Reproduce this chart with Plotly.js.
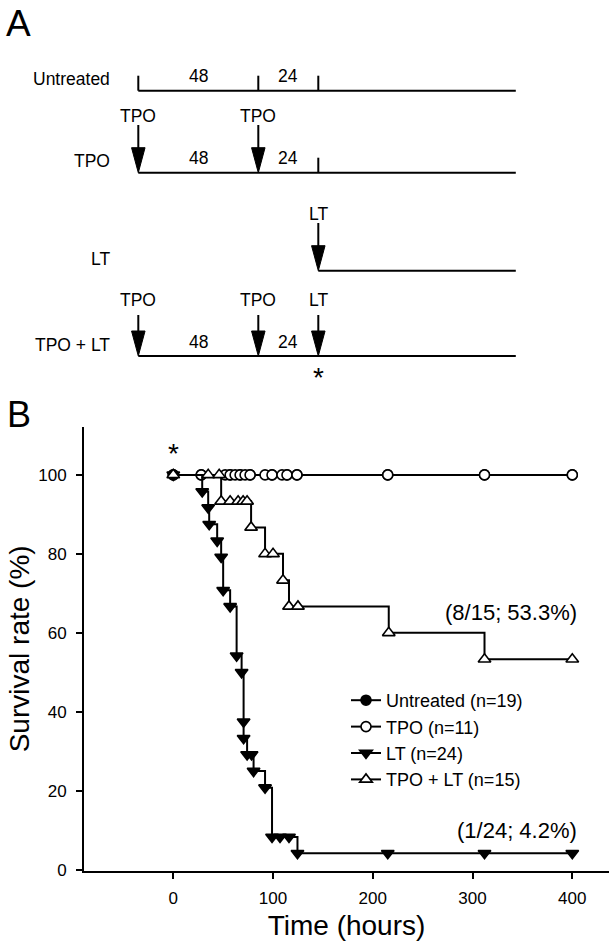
<!DOCTYPE html>
<html><head><meta charset="utf-8">
<script src="https://cdn.plot.ly/plotly-3.0.1.min.js"></script>
<style>html,body{margin:0;padding:0;background:#fff}#chart{width:616px;height:948px}</style>
</head><body><div id="chart"></div>
<script>
// ---------- Panel B data (Kaplan-Meier survival) ----------
const seriesNames = ['Untreated (n=19)', 'TPO (n=11)', 'LT (n=24)', 'TPO + LT (n=15)'];
const untreatedTime = [0, 28, 57, 67, 77, 99, 114, 124, 215, 312, 400];
const untreatedSurv = [100, 100, 100, 100, 100, 100, 100, 100, 100, 100, 100];
const tpoTime = [0, 28, 52, 57, 62, 67, 72, 77, 92, 99, 109, 114, 124, 215, 312, 400];
const tpoSurv = [100, 100, 100, 100, 100, 100, 100, 100, 100, 100, 100, 100, 100, 100, 100, 100];
const ltTime = [0, 29, 35, 36, 44, 48, 50, 57, 63.5, 68.5, 70.5, 70.5, 74, 78.5, 80.5, 92, 99, 107, 116, 124.5, 215, 312, 400];
const ltSurv = [100, 95.8, 91.7, 87.5, 83.3, 79.2, 70.8, 66.7, 54.2, 50.0, 37.5, 33.3, 29.2, 29.2, 25.0, 20.8, 8.3, 8.3, 8.3, 4.2, 4.2, 4.2, 4.2];
const tpoLtTime = [0, 35, 46, 48, 57, 65, 70, 74, 78, 92, 100, 110, 116, 125, 216, 312, 400];
const tpoLtSurv = [100, 100, 100, 93.3, 93.3, 93.3, 93.3, 93.3, 86.7, 80.0, 80.0, 73.3, 66.7, 66.7, 60.0, 53.3, 53.3];
const xTicks = [0, 100, 200, 300, 400];
const yTicks = [0, 20, 40, 60, 80, 100];
const endNotes = ['(8/15; 53.3%)', '(1/24; 4.2%)'];

// ---------- Panel A data (treatment schedule, hours) ----------
const schemeRows = ['Untreated', 'TPO', 'LT', 'TPO + LT'];
const schemeStart = [0, 0, 72, 0];
const schemeEnd = 151;
const schemeTicks = [[0, 48, 72], [72], [], []];
const schemeDoses = [[], [0, 48], [72], [0, 48, 72]];
const schemeDoseNames = [[], ['TPO', 'TPO'], ['LT'], ['TPO', 'TPO', 'LT']];
const intervalNames = ['48', '24'];
const intervalMid = [24, 60];
const intervalRows = [0, 1, 3];

// ---------- layout constants (pixels for panel A rows) ----------
const rowY = [90.7, 172.7, 270.7, 356];
const arrowTop = [0, 125, 223, 315];
const doseLabelY = [0, 116, 214, 300];
const sans = 'Liberation Sans, Arial, Helvetica, sans-serif';
const black = '#000';
const schemeFont = {family: sans, size: 17.5, color: black};

const shapes = [];
const annotations = [];
schemeRows.forEach((name, i) => {
  const y = rowY[i];
  shapes.push({type: 'line', xref: 'x2', yref: 'y2', x0: schemeStart[i], x1: schemeEnd, y0: y, y1: y,
    line: {color: black, width: 2}});
  schemeTicks[i].forEach(t => shapes.push({type: 'line', xref: 'x2', yref: 'y2', x0: t, x1: t, y0: y - 15, y1: y,
    line: {color: black, width: 2}}));
  schemeDoses[i].forEach((t, k) => {
    shapes.push({type: 'line', xref: 'x2', yref: 'y2', x0: t, x1: t, y0: arrowTop[i], y1: y - 12,
      line: {color: black, width: 2}});
    shapes.push({type: 'path', xref: 'x2', yref: 'y2',
      path: `M${t - 2.7},${y - 25} L${t + 2.7},${y - 25} L${t},${y} Z`,
      fillcolor: black, line: {color: black, width: 1}});
    annotations.push({xref: 'x2', yref: 'y2', x: t, y: doseLabelY[i], text: schemeDoseNames[i][k],
      showarrow: false, xanchor: 'center', yanchor: 'middle', font: schemeFont});
  });
  annotations.push({xref: 'x2', yref: 'y2', x: -10.6, y: y - 11.5, text: name, showarrow: false,
    xanchor: 'right', yanchor: 'middle', font: schemeFont});
});
intervalRows.forEach(r => {
  intervalNames.forEach((lab, k) => annotations.push({xref: 'x2', yref: 'y2', x: intervalMid[k], y: rowY[r] - 14.5,
    text: lab, showarrow: false, xanchor: 'center', yanchor: 'middle', font: schemeFont}));
});
annotations.push({xref: 'x2', yref: 'y2', x: 72, y: 377, text: '*', showarrow: false,
  xanchor: 'center', yanchor: 'middle', font: {family: sans, size: 28, color: black}});
annotations.push({xref: 'paper', yref: 'paper', x: (4 - 84) / 525, y: 1 - 23.5 / 871, text: 'A', showarrow: false,
  xanchor: 'left', yanchor: 'middle', font: {family: sans, size: 37, color: black}});
annotations.push({xref: 'paper', yref: 'paper', x: (5 - 84) / 525, y: 1 - 414 / 871, text: 'B', showarrow: false,
  xanchor: 'left', yanchor: 'middle', font: {family: sans, size: 36, color: black}});
// Panel B notes
annotations.push({xref: 'x', yref: 'y', x: 0, y: 105.5, text: '*', showarrow: false,
  xanchor: 'center', yanchor: 'middle', font: {family: sans, size: 28, color: black}});
annotations.push({xref: 'x', yref: 'y', x: 338.5, y: 65.1, text: endNotes[0], showarrow: false,
  xanchor: 'center', yanchor: 'middle', font: {family: sans, size: 22, color: black}});
annotations.push({xref: 'x', yref: 'y', x: 345, y: 9.9, text: endNotes[1], showarrow: false,
  xanchor: 'center', yanchor: 'middle', font: {family: sans, size: 22, color: black}});

function km(name, t, s, symbol, fill) {
  return {type: 'scatter', mode: 'lines+markers', name: name, x: t, y: s, xaxis: 'x', yaxis: 'y',
    line: {shape: 'hv', color: black, width: 2},
    marker: {symbol: symbol, size: symbol.startsWith('triangle') ? 11 : 10, color: fill,
      line: {color: black, width: 1.6}},
    cliponaxis: false};
}
const data = [
  km(seriesNames[0], untreatedTime, untreatedSurv, 'circle', black),
  km(seriesNames[1], tpoTime, tpoSurv, 'circle', '#fff'),
  km(seriesNames[2], ltTime, ltSurv, 'triangle-down', black),
  km(seriesNames[3], tpoLtTime, tpoLtSurv, 'triangle-up', '#fff')
];

const layout = {
  width: 616, height: 948,
  margin: {l: 84, r: 7, t: 0, b: 77},
  paper_bgcolor: '#fff', plot_bgcolor: 'rgba(0,0,0,0)',
  font: {family: sans, color: black},
  showlegend: true,
  legend: {x: (346 - 84) / 525, y: 1 - 682 / 871, xanchor: 'left', yanchor: 'top',
    bgcolor: 'rgba(0,0,0,0)', borderwidth: 0, font: {family: sans, size: 18, color: black}},
  xaxis: {domain: [0, 1], range: [-89.5, 436.8], anchor: 'y', showgrid: false, zeroline: false,
    showline: true, linecolor: black, linewidth: 2, ticks: 'outside', ticklen: 6, tickwidth: 2, tickcolor: black,
    tickvals: xTicks, ticktext: xTicks.map(String), tickfont: {family: sans, size: 17, color: black},
    ticklabelstandoff: 5,
    title: {text: 'Time (hours)', font: {family: sans, size: 28, color: black}, standoff: 8}},
  yaxis: {domain: [0, (871 - 426.7) / 871], range: [-0.3, 112.2], anchor: 'x', showgrid: false, zeroline: false,
    showline: true, linecolor: black, linewidth: 2, ticks: 'outside', ticklen: 6, tickwidth: 2, tickcolor: black,
    tickvals: yTicks, ticktext: yTicks.map(String), tickfont: {family: sans, size: 17, color: black},
    ticklabelstandoff: 6,
    title: {text: 'Survival rate (%)', font: {family: sans, size: 28, color: black}, standoff: 0}},
  xaxis2: {domain: [0, 1], range: [(84 - 138.3) / 2.5, (609 - 138.3) / 2.5], anchor: 'y2', visible: false, fixedrange: true},
  yaxis2: {domain: [0.55, 1], range: [871 * 0.45, 0], anchor: 'x2', visible: false, fixedrange: true},
  shapes: shapes,
  annotations: annotations
};
Plotly.newPlot('chart', data, layout, {displayModeBar: false, staticPlot: true});
</script>
</body></html>
